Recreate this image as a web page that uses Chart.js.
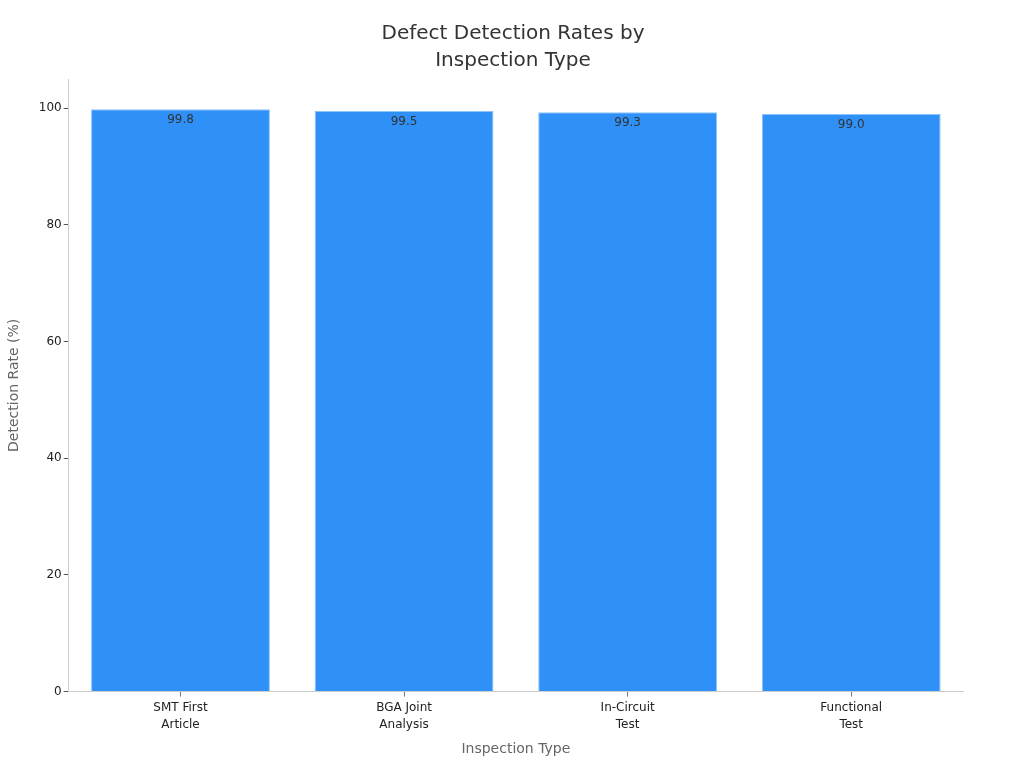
<!DOCTYPE html>
<html>
<head>
<meta charset="utf-8">
<script src="https://cdn.jsdelivr.net/npm/chart.js@4"></script>
<style>
  html, body { margin: 0; padding: 0; background: #fff; }
  #wrap { width: 1024px; height: 768px; }
</style>
</head>
<body>
<div id="wrap"><canvas id="grafica"></canvas></div>
<script>
// datos del grafico
const categorias = [["SMT First", "Article"], ["BGA Joint", "Analysis"], ["In-Circuit", "Test"], ["Functional", "Test"]];
const tasas = [99.8, 99.5, 99.3, 99.0];
const marcasY = [0, 20, 40, 60, 80, 100];

Chart.defaults.font.family = "'DejaVu Sans', sans-serif";

// etiquetas de valor dentro de la barra
const etiquetasValor = {
    id: "etiquetasValor",
    afterDatasetsDraw(chart) {
        const ctx = chart.ctx;
        const meta = chart.getDatasetMeta(0);
        ctx.save();
        ctx.font = "12px 'DejaVu Sans', sans-serif";
        ctx.fillStyle = "#333";
        ctx.textAlign = "center";
        ctx.textBaseline = "middle";
        meta.data.forEach(function (bar, i) {
            ctx.fillText(tasas[i].toFixed(1), bar.x, bar.y + 11);
        });
        ctx.restore();
    }
};

new Chart(document.getElementById("grafica"), {
    type: "bar",
    data: {
        labels: categorias,
        datasets: [{
            data: tasas,
            backgroundColor: "#2F91F8",
            borderColor: "#8CC3FB",
            borderWidth: 1,
            barPercentage: 1,
            categoryPercentage: 0.8
        }]
    },
    options: {
        responsive: true,
        maintainAspectRatio: false,
        animation: false,
        layout: { padding: { left: 2, right: 0, top: 10, bottom: 6 } },
        plugins: {
            legend: { display: false },
            tooltip: { enabled: false },
            title: {
                display: true,
                text: ["Defect Detection Rates by", "Inspection Type"],
                color: "#333",
                font: { size: 20, weight: "normal", lineHeight: 1.35 },
                padding: { top: 10, bottom: 5 }
            }
        },
        scales: {
            x: {
                grid: { display: true, offset: false, drawOnChartArea: false, tickLength: 5, color: "#777" },
                border: { color: "#ccc" },
                ticks: { color: "#222", font: { size: 12, lineHeight: 1.4 }, maxRotation: 0, padding: 3 },
                title: { display: true, text: "Inspection Type", color: "#666", font: { size: 14 }, padding: { top: 5 } }
            },
            y: {
                min: 0,
                max: 105,
                afterBuildTicks: function (axis) {
                    axis.ticks = marcasY.map(v => ({ value: v }));
                },
                grid: { display: true, drawOnChartArea: false, tickLength: 5, color: "#555" },
                border: { color: "#ccc" },
                ticks: { color: "#222", font: { size: 12 }, padding: 2 },
                title: { display: true, text: "Detection Rate (%)", color: "#666", font: { size: 14 }, padding: { top: 4, bottom: 14 } }
            },
            // eje vacio para dejar margen a la derecha
            derecha: {
                position: "right",
                display: true,
                grid: { display: false },
                border: { display: false },
                ticks: { display: false },
                afterFit: function (axis) { axis.width = 61; }
            }
        }
    },
    plugins: [etiquetasValor]
});
</script>
</body>
</html>
